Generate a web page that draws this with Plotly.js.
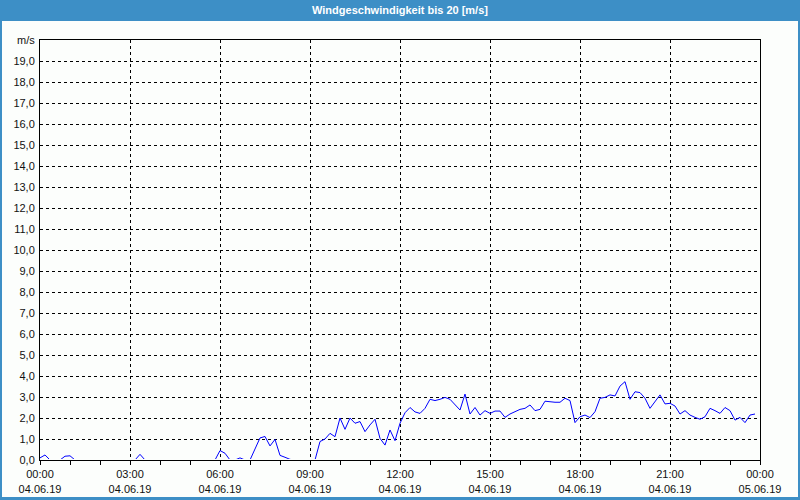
<!DOCTYPE html>
<html>
<head>
<meta charset="utf-8">
<script src="https://cdn.plot.ly/plotly-3.0.1.min.js"></script>
<style>
html,body{margin:0;padding:0;background:#fcfefc;}
#chart{width:800px;height:500px;}
</style>
</head>
<body>
<div id="chart"></div>
<script>
// ---- data (10-minute samples, 04.06.19 00:00 .. 23:50) ----
var startTime = '2019-06-04T00:00:00';
var stepMinutes = 10;
var windSpeed = [
  0.10, 0.24, 0, 0, 0, 0.18, 0.20, 0, 0, 0, 0, 0,            // 00:00-01:50
  0, 0, 0, 0, 0, 0, 0, 0, 0.27, 0, 0, 0,                     // 02:00-03:50
  0, 0, 0, 0, 0, 0, 0, 0, 0, 0, 0, 0,                        // 04:00-05:50
  0.45, 0.32, 0, 0, 0.10, 0, 0, 0.55, 1.05, 1.12, 0.67, 0.98, // 06:00-07:50
  0.22, 0.13, 0.03, 0, 0, 0, 0, 0, 0.88, 1.00, 1.27, 1.11,   // 08:00-09:50
  2.00, 1.46, 2.00, 1.75, 1.83, 1.35, 1.67, 1.94, 1.03, 0.71, 1.43, 0.92, // 10:00-11:50
  1.75, 2.25, 2.50, 2.29, 2.22, 2.46, 2.89, 2.83, 2.89, 2.98, 2.89, 2.62, // 12:00-13:50
  2.38, 3.14, 2.19, 2.50, 2.14, 2.35, 2.22, 2.33, 2.33, 2.03, 2.19, 2.30, // 14:00-15:50
  2.41, 2.46, 2.62, 2.35, 2.41, 2.80, 2.76, 2.75, 2.75, 2.94, 2.83, 1.78, // 16:00-17:50
  2.06, 2.14, 2.02, 2.30, 2.94, 2.98, 3.10, 3.05, 3.52, 3.73, 2.89, 3.25, // 18:00-19:50
  3.21, 2.94, 2.46, 2.78, 3.10, 2.67, 2.70, 2.57, 2.19, 2.35, 2.14, 2.03, // 20:00-21:50
  1.94, 2.06, 2.46, 2.35, 2.22, 2.50, 2.35, 1.90, 2.03, 1.78, 2.14, 2.19  // 22:00-23:50
];

var xTickVals = ['2019-06-04 00:00','2019-06-04 03:00','2019-06-04 06:00','2019-06-04 09:00',
                 '2019-06-04 12:00','2019-06-04 15:00','2019-06-04 18:00','2019-06-04 21:00','2019-06-05 00:00'];
var xTickText = ['00:00<br>04.06.19','03:00<br>04.06.19','06:00<br>04.06.19','09:00<br>04.06.19',
                 '12:00<br>04.06.19','15:00<br>04.06.19','18:00<br>04.06.19','21:00<br>04.06.19','00:00<br>05.06.19'];
var yTickVals = [0,1,2,3,4,5,6,7,8,9,10,11,12,13,14,15,16,17,18,19,20];
var yTickText = ['0,0','1,0','2,0','3,0','4,0','5,0','6,0','7,0','8,0','9,0','10,0','11,0','12,0',
                 '13,0','14,0','15,0','16,0','17,0','18,0','19,0','m/s'];
var chartTitle = 'Windgeschwindigkeit bis 20 [m/s]';

// ---- build times ----
function pad(n){return (n<10?'0':'')+n;}
var times = windSpeed.map(function(_, i){
  var t = new Date(Date.parse(startTime + 'Z') + i*stepMinutes*60000);
  return t.getUTCFullYear()+'-'+pad(t.getUTCMonth()+1)+'-'+pad(t.getUTCDate())+' '+pad(t.getUTCHours())+':'+pad(t.getUTCMinutes());
});

// ---- layout helpers (pixel -> paper) ----
var W=800,H=500,L=40,R=40,T=40,B=40;
var pw=W-L-R, ph=H-T-B;
function px(x){return (x-L)/pw;}
function py(y){return (H-B-y)/ph;}
var frameBlue='#3d8fc6';
var bg='#fcfefc';
var fnt='Liberation Sans, Arial, sans-serif';

var trace = {
  x: times, y: windSpeed, type:'scatter', mode:'lines',
  line:{color:'#0000ff', width:1}, hoverinfo:'x+y'
};

var layout = {
  width:W, height:H,
  margin:{l:L, r:R, t:T, b:B, pad:0},
  paper_bgcolor:bg, plot_bgcolor:bg,
  showlegend:false,
  font:{family:fnt, size:11, color:'#111'},
  title:{text:'<b>'+chartTitle+'</b>', font:{family:fnt, size:11, color:'#ffffff'},
         x:0.5, xanchor:'center', xref:'container', y:1-10.5/H, yanchor:'middle', yref:'container'},
  xaxis:{
    type:'date', range:['2019-06-04 00:00','2019-06-05 00:00'],
    tickmode:'array', tickvals:xTickVals, ticktext:xTickText,
    ticks:'outside', ticklen:4, tickcolor:'#000', tickwidth:1,
    minor:{dtick:3600000, tick0:'2019-06-04 00:00', ticks:'outside', ticklen:4, tickcolor:'#000', showgrid:false},
    showgrid:true, gridcolor:'#000', gridwidth:1, griddash:'3px,3px',
    showline:true, linecolor:'#000', linewidth:1, mirror:true,
    zeroline:false, fixedrange:true,
    tickfont:{family:fnt, size:11, color:'#111'}
  },
  yaxis:{
    range:[0,20], tickmode:'array', tickvals:yTickVals, ticktext:yTickText,
    ticks:'', showgrid:true, gridcolor:'#000', gridwidth:1, griddash:'3px,3px',
    showline:true, linecolor:'#000', linewidth:1, mirror:true,
    zeroline:false, fixedrange:true, ticklabelstandoff:2,
    tickfont:{family:fnt, size:11, color:'#111'}
  },
  shapes:[
    // thin mask so the zero-level trace hides behind the 1px bottom axis line
    {type:'rect', xref:'paper', yref:'paper', x0:px(41), x1:px(759), y0:py(460), y1:py(459),
     fillcolor:bg, line:{width:0}, layer:'above'},
    {type:'rect', xref:'paper', yref:'paper', x0:px(0), x1:px(800), y0:py(21), y1:py(0),
     fillcolor:frameBlue, line:{width:0}, layer:'above'},
    {type:'rect', xref:'paper', yref:'paper', x0:px(0), x1:px(2), y0:py(500), y1:py(0),
     fillcolor:frameBlue, line:{width:0}, layer:'above'},
    {type:'rect', xref:'paper', yref:'paper', x0:px(798), x1:px(800), y0:py(500), y1:py(0),
     fillcolor:frameBlue, line:{width:0}, layer:'above'},
    {type:'rect', xref:'paper', yref:'paper', x0:px(0), x1:px(800), y0:py(500), y1:py(497),
     fillcolor:frameBlue, line:{width:0}, layer:'above'}
  ]
};

Plotly.newPlot('chart', [trace], layout, {displayModeBar:false, staticPlot:true});
</script>
</body>
</html>
